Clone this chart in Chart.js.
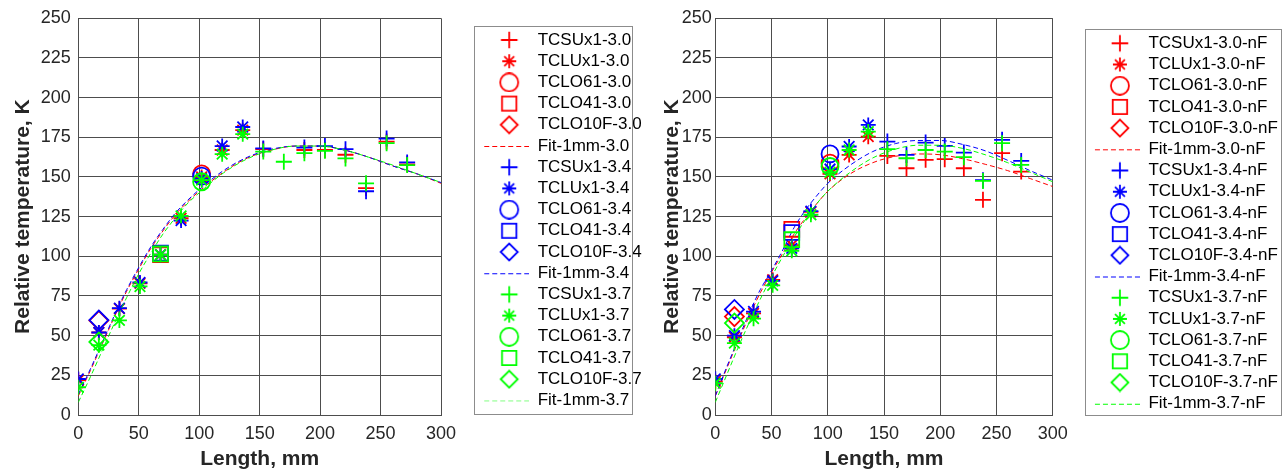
<!DOCTYPE html>
<html>
<head>
<meta charset="utf-8">
<script src="https://cdn.jsdelivr.net/npm/chart.js@4.4.1/dist/chart.umd.min.js"></script>
<style>
  html, body { margin: 0; padding: 0; background: #fff; overflow: hidden; }
  #left { position: absolute; left: 0; top: 0; width: 643px; height: 472px; }
  #right { position: absolute; left: 643px; top: 0; width: 644px; height: 472px; }
</style>
</head>
<body>
<div id="left"><canvas id="c1"></canvas></div>
<div id="right"><canvas id="c2"></canvas></div>
<script>
// thermocouple positions, mm
const posSU = [153, 170, 187, 204, 221, 238, 255, 272];
const posLU = [0, 17, 34, 51, 68, 85, 102, 119, 136];
const posLO61 = [102];
const posLO41 = [68];
const posLO10F = [17];
const fitX = [0, 10, 20, 30, 40, 50, 60, 70, 80, 90, 100, 120, 140, 160, 180, 200, 220, 240, 260, 280, 300];

const xTicks = [0, 50, 100, 150, 200, 250, 300];
const yTicks = [0, 25, 50, 75, 100, 125, 150, 175, 200, 225, 250];

// left panel
const su30 = [167.5, null, 167, 167, 164, 143, 172.3, 158];
const lu30 = [22, 52, 67, 83, 101, 124, 150, 167, 179.5];
const lo61_30 = [152];
const lo41_30 = [101];
const lo10f_30 = [59.5];
const fit30 = [12, 28, 45, 62, 78, 92, 105, 116, 126, 134, 141, 153, 162, 167, 169.5, 169.5, 167, 162.5, 157, 152, 146];

const su34 = [168, null, 168.5, 169.5, 167.5, 141, 174.2, 159.2];
const lu34 = [22.7, 52, 67.3, 83.5, 101, 122.5, 149, 169.5, 181.5];
const lo61_34 = [150.5];
const lo41_34 = [102];
const lo10f_34 = [59.8];
const fit34 = [13, 29, 46, 63, 79, 93, 106, 117, 127, 135, 142, 154, 162.5, 167.5, 169.5, 169.5, 167, 162.5, 157, 152, 146.5];

const su37 = [166, 159.6, 165, 166.5, 161.7, 146, 171.3, 157.5];
const lu37 = [17.5, 44, 59.6, 81, 101, 125.5, 148, 164.4, 177];
const lo61_37 = [147];
const lo41_37 = [101.5];
const lo10f_37 = [46];
const fit37 = [8, 24, 41, 58, 74, 89, 102, 114, 124, 133, 140, 152.5, 161.5, 167, 169.5, 169.5, 167, 162.5, 157.5, 152, 146.5];

// right panel (nF)
const su30n = [163.3, 155.5, 160.8, 161.2, 155.5, 135.6, 165, 153.4];
const lu30n = [21.2, 49, 64, 85.2, 107, 128, 152, 163.9, 175.4];
const lo61_30n = [158.7];
const lo41_30n = [117];
const lo10f_30n = [62];
const fit30n = [12, 29, 46, 62, 77, 90, 102, 114, 124, 133, 141, 152, 159, 163, 164.5, 164, 161.5, 158, 154, 149, 144];

const su34n = [172.3, 163.9, 171.7, 169.6, 165.4, 148, 173.4, 160.1];
const lu34n = [22.8, 50, 65.2, 84.5, 105, 128.5, 155, 169.2, 182.8];
const lo61_34n = [164.5];
const lo41_34n = [115];
const lo10f_34n = [66.5];
const fit34n = [12, 30, 47, 64, 79, 91, 104, 118, 129, 138, 146, 157.5, 166, 171, 173, 173, 170.5, 166.5, 160.5, 154, 148];

const su37n = [167.5, 161.8, 167, 166, 162.5, 147.5, 171.3, 157.6];
const lu37n = [20, 45.3, 60.7, 81.7, 103.5, 126.2, 153, 167, 178.6];
const lo61_37n = [156.6];
const lo41_37n = [110.5];
const lo10f_37n = [57.9];
const fit37n = [8, 25, 42, 58, 73, 87, 100, 112, 123, 133, 141, 153, 162, 167.5, 170, 170, 168, 164, 159, 153, 147];

const RED = '#ff0000', BLUE = '#0000ff', GREEN = '#00ff00';
const FONT = "'Liberation Sans', Arial, sans-serif";
const TXT = '#262626';
const GRID = '#4d4d4d';

const markers = {
  cross: { r: 8, lr: 8.3 },
  star: { r: 7.5, lr: 7 },
  circle: { r: 8.5, lr: 9 },
  rect: { r: 10.5, lr: 10.2 },
  rectRot: { r: 9.5, lr: 8.5 }
};

function pts(xs, ys) {
  return xs.map((x, i) => ({ x: x, y: ys[i] }));
}

function scatterSet(label, color, style, xs, ys) {
  return {
    label: label,
    data: pts(xs, ys),
    showLine: false,
    pointStyle: style,
    pointRadius: markers[style].r,
    pointHoverRadius: markers[style].r,
    pointBorderWidth: 1.8,
    pointBorderColor: color,
    pointBackgroundColor: 'rgba(0,0,0,0)',
    borderColor: color,
    iconColor: color,
    iconRadius: markers[style].lr
  };
}

function fitSet(label, color, ys, iconColor) {
  return {
    label: label,
    data: pts(fitX, ys),
    showLine: true,
    borderColor: color,
    borderWidth: 1,
    borderDash: [5, 3],
    pointRadius: 0,
    cubicInterpolationMode: 'monotone',
    iconColor: iconColor || color
  };
}

function group(tag, color, su, lu, lo61, lo41, lo10f, fit, fitIcon) {
  return [
    scatterSet('TCSUx1-' + tag, color, 'cross', posSU, su),
    scatterSet('TCLUx1-' + tag, color, 'star', posLU, lu),
    scatterSet('TCLO61-' + tag, color, 'circle', posLO61, lo61),
    scatterSet('TCLO41-' + tag, color, 'rect', posLO41, lo41),
    scatterSet('TCLO10F-' + tag, color, 'rectRot', posLO10F, lo10f),
    fitSet('Fit-1mm-' + tag, color, fit, fitIcon)
  ];
}

// small legend glyph: blank lead, then a 45px wide cell holding marker or dashed line
function legendIcon(ds, lead, w) {
  const c = document.createElement('canvas');
  c.width = w;
  c.height = 20;
  const ctx = c.getContext('2d');
  ctx.strokeStyle = ds.iconColor;
  if (ds.showLine) {
    ctx.lineWidth = 1;
    ctx.setLineDash([5, 3]);
    ctx.beginPath();
    ctx.moveTo(lead, 10.5);
    ctx.lineTo(lead + 45, 10.5);
    ctx.stroke();
  } else {
    ctx.lineWidth = 1.8;
    ctx.fillStyle = 'rgba(0,0,0,0)';
    Chart.helpers.drawPoint(ctx, {
      pointStyle: ds.pointStyle, radius: ds.iconRadius, borderWidth: 1.8, rotation: 0
    }, lead + 25, 10);
  }
  return c;
}

const legendFrame = {
  id: 'legendFrame',
  afterDraw(chart, args, o) {
    const lg = chart.legend;
    const hb = lg.legendHitBoxes;
    if (!hb || !hb.length) return;
    const last = hb[hb.length - 1];
    const top = Math.round(hb[0].top - o.above) + 0.5;
    const bottom = Math.round(last.top + last.height + o.below) + 0.5;
    const x = Math.round(lg.left + o.dx) + 0.5;
    const ctx = chart.ctx;
    ctx.save();
    ctx.strokeStyle = '#8c8c8c';
    ctx.lineWidth = 1;
    ctx.strokeRect(x, top, Math.round(o.width), bottom - top);
    ctx.restore();
  }
};

function makeChart(id, datasets, cfg) {
  datasets.forEach((d, i) => { d.order = 100 - i; });
  const icons = datasets.map(d => legendIcon(d, cfg.lead, cfg.iconW));
  return new Chart(document.getElementById(id), {
    type: 'scatter',
    data: { datasets: datasets },
    plugins: [legendFrame],
    options: {
      responsive: true,
      maintainAspectRatio: false,
      animation: false,
      layout: { padding: { top: cfg.top, left: 0, right: 0, bottom: 0 } },
      plugins: {
        tooltip: { enabled: false },
        legend: {
          position: 'right',
          align: 'start',
          maxWidth: cfg.legendW,
          title: { display: true, text: '', font: { size: 10, lineHeight: 1 }, padding: { top: cfg.titleGap, bottom: 0 } },
          labels: {
            usePointStyle: true,
            pointStyleWidth: cfg.iconW,
            boxHeight: 12,
            padding: 4.2,
            color: '#000',
            font: { family: FONT, size: 17 },
            generateLabels(chart) {
              const items = Chart.defaults.plugins.legend.labels.generateLabels(chart);
              items.sort((a, b) => a.datasetIndex - b.datasetIndex);
              items.forEach(it => { it.pointStyle = icons[it.datasetIndex]; it.fontColor = '#000'; });
              return items;
            }
          }
        },
        legendFrame: cfg.frame
      },
      scales: {
        x: {
          type: 'linear',
          min: 0, max: 300,
          afterBuildTicks: s => { s.ticks = xTicks.map(v => ({ value: v })); },
          afterFit: s => { s.height = 57; },
          ticks: { padding: 8, color: TXT, font: { family: FONT, size: 18 }, maxRotation: 0 },
          grid: { color: GRID, lineWidth: 1, drawTicks: false },
          border: { color: GRID, width: 1 },
          title: {
            display: true, text: 'Length, mm', color: TXT,
            font: { family: FONT, size: 21, weight: 'bold' },
            padding: { top: 0, bottom: 0 }
          }
        },
        y: {
          type: 'linear',
          min: 0, max: 250,
          afterBuildTicks: s => { s.ticks = yTicks.map(v => ({ value: v })); },
          afterFit: s => { s.width = cfg.axisW; },
          ticks: { padding: cfg.tickPad, color: TXT, font: { family: FONT, size: 18 } },
          grid: { color: GRID, lineWidth: 1, drawTicks: false },
          border: { color: GRID, width: 1 },
          title: {
            display: true, text: 'Relative temperature, K', color: TXT,
            font: { family: FONT, size: 21, weight: 'bold' },
            padding: { top: cfg.titlePad, bottom: 0 }
          }
        }
      }
    }
  });
}

const leftSets = [].concat(
  group('3.0', RED, su30, lu30, lo61_30, lo41_30, lo10f_30, fit30),
  group('3.4', BLUE, su34, lu34, lo61_34, lo41_34, lo10f_34, fit34),
  group('3.7', GREEN, su37, lu37, lo61_37, lo41_37, lo10f_37, fit37, '#80ff80')
);

const rightSets = [].concat(
  group('3.0-nF', RED, su30n, lu30n, lo61_30n, lo41_30n, lo10f_30n, fit30n),
  group('3.4-nF', BLUE, su34n, lu34n, lo61_34n, lo41_34n, lo10f_34n, fit34n),
  group('3.7-nF', GREEN, su37n, lu37n, lo61_37n, lo41_37n, lo10f_37n, fit37n)
);

makeChart('c1', leftSets, {
  top: 14.7, axisW: 78.3, tickPad: 7.5, titlePad: 10.4,
  legendW: 202, lead: 39, iconW: 84, titleGap: 2.6,
  frame: { dx: 33, width: 158, above: 5.5, below: 5 }
});

makeChart('c2', rightSets, {
  top: 18.3, axisW: 72.3, tickPad: 3.5, titlePad: 16.5,
  legendW: 234.3, lead: 38, iconW: 83, titleGap: 2.3,
  frame: { dx: 32, width: 196, above: 5.5, below: 2.5 }
});
</script>
</body>
</html>
